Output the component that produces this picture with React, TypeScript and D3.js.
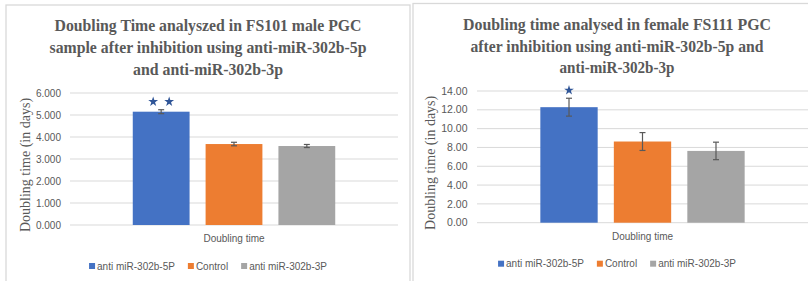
import { useRef, useEffect } from 'react'
import * as d3 from 'd3'

const categories = ['anti miR-302b-5P', 'Control', 'anti miR-302b-3P']
const groupLabel = 'Doubling time'
const colors = ['#4472C4', '#ED7D31', '#A5A5A5']

const maleValues = [5.15, 3.68, 3.59]
const maleErrors = [0.09, 0.08, 0.07]
const maleStars = [2, 0, 0]
const maleTicks = [0, 1, 2, 3, 4, 5, 6]
const maleTitle = [
  'Doubling Time analyszed in FS101 male PGC',
  'sample after inhibition  using anti-miR-302b-5p',
  'and anti-miR-302b-3p',
]

const femaleValues = [12.28, 8.63, 7.63]
const femaleErrors = [0.95, 0.95, 0.93]
const femaleStars = [1, 0, 0]
const femaleTicks = [0, 2, 4, 6, 8, 10, 12, 14]
const femaleTitle = [
  'Doubling time analysed in  female FS111 PGC',
  'after inhibition  using anti-miR-302b-5p and',
  'anti-miR-302b-3p',
]

interface PanelProps {
  frame: { x: number; y: number; w: number }
  plot: { left: number; right: number; top: number; bottom: number }
  values: number[]
  errors: number[]
  stars: number[]
  ticks: number[]
  tickFormat: string
  title: string[]
  titleWidths: number[]
  titleBaselines: number[]
  fontScale: number
}

function drawPanel(svg: d3.Selection<SVGSVGElement, unknown, null, undefined>, p: PanelProps) {
  const g = svg.append('g')
  const cx = p.frame.x + p.frame.w / 2
  const gray = '#595959'

  // frame
  g.append('rect')
    .attr('x', p.frame.x)
    .attr('y', p.frame.y)
    .attr('width', p.frame.w)
    .attr('height', 400)
    .attr('fill', '#fff')
    .attr('stroke', '#D9D9D9')
    .attr('stroke-width', 1.3)

  // title
  p.title.forEach((line, i) => {
    g.append('text')
      .attr('x', cx)
      .attr('y', p.titleBaselines[i])
      .attr('text-anchor', 'middle')
      .attr('font-family', '"Liberation Serif", serif')
      .attr('font-weight', 'bold')
      .attr('font-size', 17)
      .attr('fill', gray)
      .attr('textLength', p.titleWidths[i])
      .attr('lengthAdjust', 'spacingAndGlyphs')
      .text(line)
  })

  const yMax = p.ticks[p.ticks.length - 1]
  const y = d3.scaleLinear().domain([0, yMax]).range([p.plot.bottom, p.plot.top])

  // gridlines + tick labels
  const grid = g.append('g')
  p.ticks.forEach((t) => {
    grid.append('line')
      .attr('x1', p.plot.left)
      .attr('x2', p.plot.right)
      .attr('y1', y(t))
      .attr('y2', y(t))
      .attr('stroke', '#D9D9D9')
      .attr('stroke-width', 1)
    grid.append('text')
      .attr('x', p.plot.left - 9 * p.fontScale)
      .attr('y', y(t))
      .attr('dy', '0.35em')
      .attr('text-anchor', 'end')
      .attr('font-family', '"Liberation Sans", sans-serif')
      .attr('font-size', 10 * p.fontScale)
      .attr('fill', gray)
      .text(d3.format(p.tickFormat)(t))
  })

  // y axis title
  g.append('text')
    .attr('transform', `translate(${p.plot.left - 40 * p.fontScale},${(p.plot.top + p.plot.bottom) / 2 + 6}) rotate(-90)`)
    .attr('text-anchor', 'middle')
    .attr('font-family', '"Liberation Serif", serif')
    .attr('font-size', 14)
    .attr('fill', gray)
    .text('Doubling  time  (in  days)')

  // bars
  const x0 = d3.scaleBand<string>()
    .domain([groupLabel])
    .range([p.plot.left, p.plot.right])
    .paddingInner(0)
    .paddingOuter(0.31)
  const x1 = d3.scaleBand<string>()
    .domain(categories)
    .range([0, x0.bandwidth()])
    .paddingInner(0.22)
    .paddingOuter(0)

  const bars = g.append('g').attr('transform', `translate(${x0(groupLabel)},0)`)
  categories.forEach((c, i) => {
    const bx = x1(c)!
    bars.append('rect')
      .attr('x', bx)
      .attr('y', y(p.values[i]))
      .attr('width', x1.bandwidth())
      .attr('height', y(0) - y(p.values[i]))
      .attr('fill', colors[i])

    const mx = bx + x1.bandwidth() / 2
    const lo = y(p.values[i] - p.errors[i])
    const hi = y(p.values[i] + p.errors[i])
    bars.append('line').attr('x1', mx).attr('x2', mx).attr('y1', lo).attr('y2', hi)
      .attr('stroke', gray).attr('stroke-width', 1.2)
    ;[lo, hi].forEach((yy) => {
      bars.append('line').attr('x1', mx - 3).attr('x2', mx + 3).attr('y1', yy).attr('y2', yy)
        .attr('stroke', gray).attr('stroke-width', 1.2)
    })

    // significance stars
    const n = p.stars[i]
    if (n > 0) {
      const star = d3.symbol().type(d3.symbolStar).size(30)
      for (let k = 0; k < n; k++) {
        const sx = mx + (k - (n - 1) / 2) * 16
        bars.append('path')
          .attr('d', star()!)
          .attr('transform', `translate(${sx},${hi - 8})`)
          .attr('fill', '#2F5597')
      }
    }
  })

  // x axis label
  g.append('text')
    .attr('x', (p.plot.left + p.plot.right) / 2)
    .attr('y', p.plot.bottom + 17)
    .attr('text-anchor', 'middle')
    .attr('font-family', '"Liberation Sans", sans-serif')
    .attr('font-size', 10)
    .attr('fill', gray)
    .text(groupLabel)

  // legend
  const leg = g.append('g')
  let lx = 0
  categories.forEach((c, i) => {
    const item = leg.append('g').attr('transform', `translate(${lx},0)`)
    item.append('rect').attr('x', 0).attr('y', -3).attr('width', 6).attr('height', 6).attr('fill', colors[i])
    const t = item.append('text')
      .attr('x', 8)
      .attr('dy', '0.35em')
      .attr('font-family', '"Liberation Sans", sans-serif')
      .attr('font-size', 10)
      .attr('fill', gray)
      .text(c)
    const w = (t.node() as SVGTextElement).getComputedTextLength()
    lx += 8 + w + 13
  })
  const total = lx - 13
  leg.attr('transform', `translate(${cx - total / 2},${p.plot.bottom + 41})`)
}

export default function App() {
  const svgRef = useRef<SVGSVGElement>(null)

  useEffect(() => {
    if (!svgRef.current) return
    const svg = d3.select(svgRef.current)
    svg.selectAll('*').remove()

    drawPanel(svg, {
      frame: { x: 6, y: 5, w: 404 },
      plot: { left: 70, right: 398, top: 93, bottom: 225 },
      values: maleValues,
      errors: maleErrors,
      stars: maleStars,
      ticks: maleTicks,
      tickFormat: '.3f',
      title: maleTitle,
      titleWidths: [307, 317, 150],
      titleBaselines: [31, 53, 75],
      fontScale: 1,
    })

    drawPanel(svg, {
      frame: { x: 413, y: 3.5, w: 408 },
      plot: { left: 477, right: 808, top: 91, bottom: 222.7 },
      values: femaleValues,
      errors: femaleErrors,
      stars: femaleStars,
      ticks: femaleTicks,
      tickFormat: '.2f',
      title: femaleTitle,
      titleWidths: [308, 293, 115],
      titleBaselines: [30, 52, 73],
      fontScale: 1.05,
    })
  }, [])

  return (
    <svg
      ref={svgRef}
      width={808}
      height={281}
      style={{ position: 'absolute', left: 0, top: 0, background: '#fff' }}
    />
  )
}
